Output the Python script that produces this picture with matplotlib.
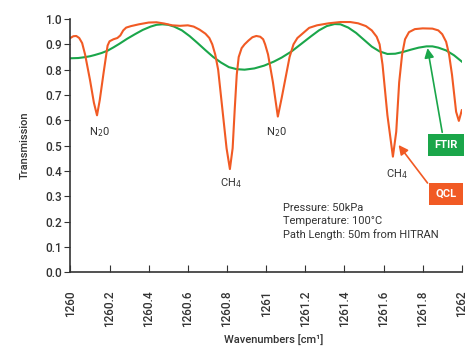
import matplotlib
matplotlib.use('Agg')
import matplotlib.pyplot as plt

plt.rcParams['font.family'] = ['Roboto', 'DejaVu Sans']

# QCL spectrum
qcl_wn = [1260.00, 1260.015, 1260.03, 1260.045, 1260.06, 1260.075, 1260.10, 1260.12, 1260.136,
          1260.15, 1260.17, 1260.19, 1260.20, 1260.22, 1260.24, 1260.255, 1260.27, 1260.285,
          1260.31, 1260.35, 1260.40, 1260.44, 1260.48, 1260.52, 1260.56, 1260.60, 1260.63,
          1260.66, 1260.69, 1260.71, 1260.725, 1260.74, 1260.755, 1260.78, 1260.798, 1260.815,
          1260.829, 1260.84, 1260.85, 1260.86, 1260.875, 1260.89, 1260.91, 1260.93, 1260.95,
          1260.97, 1260.985, 1260.995, 1261.01, 1261.035, 1261.06, 1261.08, 1261.10, 1261.12,
          1261.14, 1261.16, 1261.19, 1261.22, 1261.26, 1261.32, 1261.38, 1261.43, 1261.47,
          1261.51, 1261.54, 1261.565, 1261.58, 1261.595, 1261.62, 1261.648, 1261.665, 1261.68,
          1261.695, 1261.71, 1261.73, 1261.76, 1261.80, 1261.85, 1261.88, 1261.90, 1261.92,
          1261.935, 1261.95, 1261.971, 1261.985, 1262.00]
qcl_t = [0.925, 0.932, 0.933, 0.925, 0.905, 0.86, 0.76, 0.67, 0.62,
         0.68, 0.79, 0.895, 0.912, 0.92, 0.925, 0.935, 0.955, 0.966,
         0.972, 0.979, 0.986, 0.987, 0.982, 0.975, 0.973, 0.975, 0.97,
         0.958, 0.942, 0.925, 0.90, 0.86, 0.80, 0.62, 0.49, 0.408,
         0.49, 0.648, 0.78, 0.85, 0.885, 0.90, 0.915, 0.928, 0.933,
         0.93, 0.92, 0.90, 0.86, 0.75, 0.615, 0.69, 0.77, 0.85,
         0.90, 0.925, 0.945, 0.965, 0.975, 0.983, 0.988, 0.988, 0.983,
         0.972, 0.955, 0.93, 0.90, 0.82, 0.62, 0.457, 0.555, 0.75,
         0.86, 0.92, 0.948, 0.96, 0.963, 0.962, 0.955, 0.94, 0.91,
         0.86, 0.78, 0.634, 0.598, 0.64]

# FTIR spectrum
ftir_wn = [1260.00, 1260.04, 1260.07, 1260.10, 1260.125, 1260.16, 1260.19, 1260.22, 1260.25,
           1260.29, 1260.33, 1260.37, 1260.41, 1260.44, 1260.47, 1260.50, 1260.53, 1260.57,
           1260.61, 1260.65, 1260.69, 1260.73, 1260.77, 1260.81, 1260.85, 1260.89, 1260.94,
           1260.99, 1261.04, 1261.08, 1261.13, 1261.18, 1261.23, 1261.27, 1261.31, 1261.35,
           1261.38, 1261.42, 1261.46, 1261.50, 1261.54, 1261.58, 1261.62, 1261.66, 1261.70,
           1261.74, 1261.78, 1261.82, 1261.85, 1261.88, 1261.92, 1261.96, 1262.00]
ftir_t = [0.845, 0.846, 0.849, 0.853, 0.858, 0.866, 0.875, 0.888, 0.902,
          0.922, 0.940, 0.957, 0.970, 0.977, 0.979, 0.977, 0.970, 0.955,
          0.932, 0.905, 0.877, 0.850, 0.828, 0.810, 0.802, 0.800, 0.805,
          0.816, 0.832, 0.848, 0.872, 0.902, 0.932, 0.955, 0.972, 0.980,
          0.979, 0.966, 0.945, 0.918, 0.891, 0.872, 0.862, 0.863, 0.870,
          0.879, 0.887, 0.892, 0.892, 0.887, 0.876, 0.857, 0.832]

xticks = [1260, 1260.2, 1260.4, 1260.6, 1260.8, 1261, 1261.2, 1261.4, 1261.6, 1261.8, 1262]
xlabels = ['1260', '1260.2', '1260.4', '1260.6', '1260.8', '1261',
           '1261.2', '1261.4', '1261.6', '1261.8', '1262']
yticks = [0.0, 0.1, 0.2, 0.3, 0.4, 0.5, 0.6, 0.7, 0.8, 0.9, 1.0]

orange = '#f15a24'
green = '#1aa64a'
grey = '#333333'

fig = plt.figure(figsize=(4.65, 3.49), dpi=100)
ax = fig.add_axes([0.1514, 0.2192, 0.8417, 0.7264])

ax.plot(ftir_wn, ftir_t, color=green, lw=1.5)
ax.plot(qcl_wn, qcl_t, color=orange, lw=1.5)

ax.set_xlim(1260, 1262)
ax.set_ylim(0, 1)
ax.set_xticks(xticks)
ax.set_xticklabels(xlabels, rotation=90, va='top', fontweight='medium')
ax.set_yticks(yticks)
ax.set_yticklabels(['%.1f' % v for v in yticks], fontweight='medium')
ax.tick_params(axis='x', direction='in', length=5, pad=13, labelsize=8.5, colors=grey)
ax.tick_params(axis='y', direction='out', length=4, pad=2, labelsize=8.5, colors=grey)

for s in ['top', 'right']:
    ax.spines[s].set_visible(False)
for s in ['left', 'bottom']:
    ax.spines[s].set_color(grey)
    ax.spines[s].set_linewidth(1.2)

ax.set_ylabel('Transmission', fontsize=8, color=grey, labelpad=11, fontweight='medium')
ax.set_xlabel('Wavenumbers [cm¹]', fontsize=8, color=grey, fontweight='medium')
ax.xaxis.set_label_coords(0.52, -0.245)

# peak labels
ax.text(1260.147, 0.553, 'N$_2$0', fontsize=8, color=grey, ha='center', va='center')
ax.text(1260.82, 0.353, 'CH$_4$', fontsize=8, color=grey, ha='center', va='center')
ax.text(1261.055, 0.553, 'N$_2$0', fontsize=8, color=grey, ha='center', va='center')
ax.text(1261.667, 0.389, 'CH$_4$', fontsize=8, color=grey, ha='center', va='center')

ax.text(1261.084, 0.275, 'Pressure: 50kPa\nTemperature: 100°C\nPath Length: 50m from HITRAN',
        fontsize=8, color=grey, ha='left', va='top', linespacing=1.4)

# FTIR / QCL callouts
ax.annotate('', xy=(1261.825, 0.885), xytext=(1261.90, 0.553),
            arrowprops=dict(arrowstyle='-|>', color=green, lw=1.2, mutation_scale=14,
                            shrinkA=0, shrinkB=0))
ax.annotate('', xy=(1261.677, 0.503), xytext=(1261.825, 0.353),
            arrowprops=dict(arrowstyle='-|>', color=orange, lw=1.2, mutation_scale=14,
                            shrinkA=0, shrinkB=0))
ax.text(1261.92, 0.503, 'FTIR', fontsize=8, fontweight='bold', color='white',
        ha='center', va='center', clip_on=False,
        bbox=dict(boxstyle='square,pad=0.55', fc=green, ec='none'))
ax.text(1261.92, 0.31, 'QCL', fontsize=8, fontweight='bold', color='white',
        ha='center', va='center', clip_on=False,
        bbox=dict(boxstyle='square,pad=0.55', fc=orange, ec='none'))

fig.savefig('out.png', dpi=100)
